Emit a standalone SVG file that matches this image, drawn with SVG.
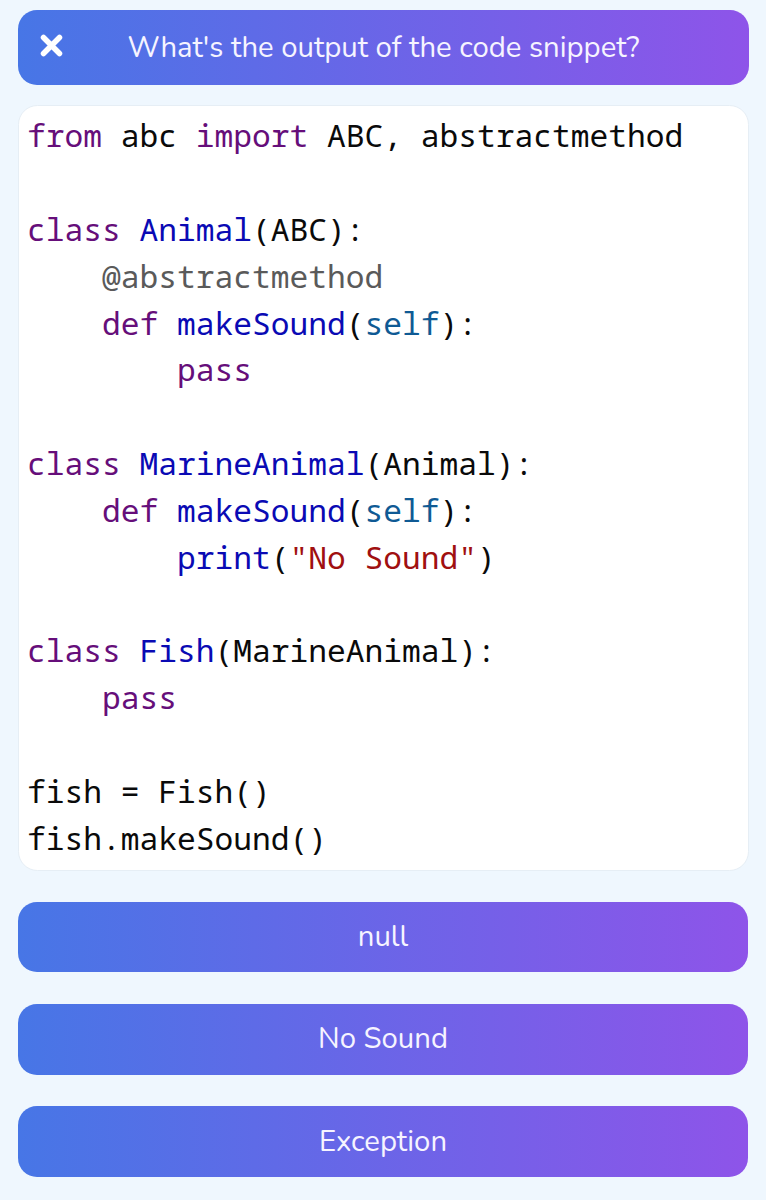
<svg xmlns="http://www.w3.org/2000/svg" width="766" height="1200" viewBox="0 0 766 1200">
<style>
.code{font-family:"Noto Sans Mono","DejaVu Sans Mono",monospace;font-size:31.25px;white-space:pre;fill:#0a0a0a}
.k{fill:#660e7a}.f{fill:#0a0ab4}.s{fill:#0f5a94}.d{fill:#5a5a5a}.q{fill:#a01010}
.ui{font-family:"Nunito","Noto Sans",sans-serif;font-size:29.3px;fill:#f6f4ff;text-anchor:middle}
</style>
<defs><linearGradient id="g" x1="0" x2="1" y1="0" y2="0"><stop offset="0" stop-color="#4776e6"/><stop offset="1" stop-color="#8e54e9"/></linearGradient></defs>
<rect width="766" height="1200" fill="#eff7fe"/>
<g id="header"><rect x="18" y="10" width="731" height="75" rx="19" fill="url(#g)"/>
<path d="M43.500 37.500L59.500 53.500M59.500 37.500L43.500 53.500" stroke="#fff" stroke-width="5.500" stroke-linecap="round"/>
<text class="ui" x="383.500" y="57">What's the output of the code snippet?</text></g>
<g id="code-panel"><rect x="18.500" y="105.500" width="730" height="765" rx="19" fill="#fff" stroke="#e6eef5"/>
<text class="code" x="27" y="147"><tspan class="k">from</tspan> abc <tspan class="k">import</tspan> ABC, abstractmethod</text>
<text class="code" x="27" y="241"><tspan class="k">class</tspan> <tspan class="f">Animal</tspan>(ABC):</text>
<text class="code" x="27" y="288">    <tspan class="d">@abstractmethod</tspan></text>
<text class="code" x="27" y="334.500">    <tspan class="k">def</tspan> <tspan class="f">makeSound</tspan>(<tspan class="s">self</tspan>):</text>
<text class="code" x="27" y="381">        <tspan class="k">pass</tspan></text>
<text class="code" x="27" y="475"><tspan class="k">class</tspan> <tspan class="f">MarineAnimal</tspan>(Animal):</text>
<text class="code" x="27" y="522">    <tspan class="k">def</tspan> <tspan class="f">makeSound</tspan>(<tspan class="s">self</tspan>):</text>
<text class="code" x="27" y="568.500">        <tspan class="f">print</tspan>(<tspan class="q">"No Sound"</tspan>)</text>
<text class="code" x="27" y="662"><tspan class="k">class</tspan> <tspan class="f">Fish</tspan>(MarineAnimal):</text>
<text class="code" x="27" y="709">    <tspan class="k">pass</tspan></text>
<text class="code" x="27" y="803">fish = Fish()</text>
<text class="code" x="27" y="849.500">fish.makeSound()</text></g>
<g id="opt1"><rect x="18" y="902" width="730" height="70" rx="19" fill="url(#g)"/><text class="ui" x="383" y="946">null</text></g>
<g id="opt2"><rect x="18" y="1004" width="730" height="71" rx="19" fill="url(#g)"/><text class="ui" x="383" y="1048">No Sound</text></g>
<g id="opt3"><rect x="18" y="1106" width="730" height="71" rx="19" fill="url(#g)"/><text class="ui" x="383" y="1151">Exception</text></g>
<g id="connectors"/>
</svg>
